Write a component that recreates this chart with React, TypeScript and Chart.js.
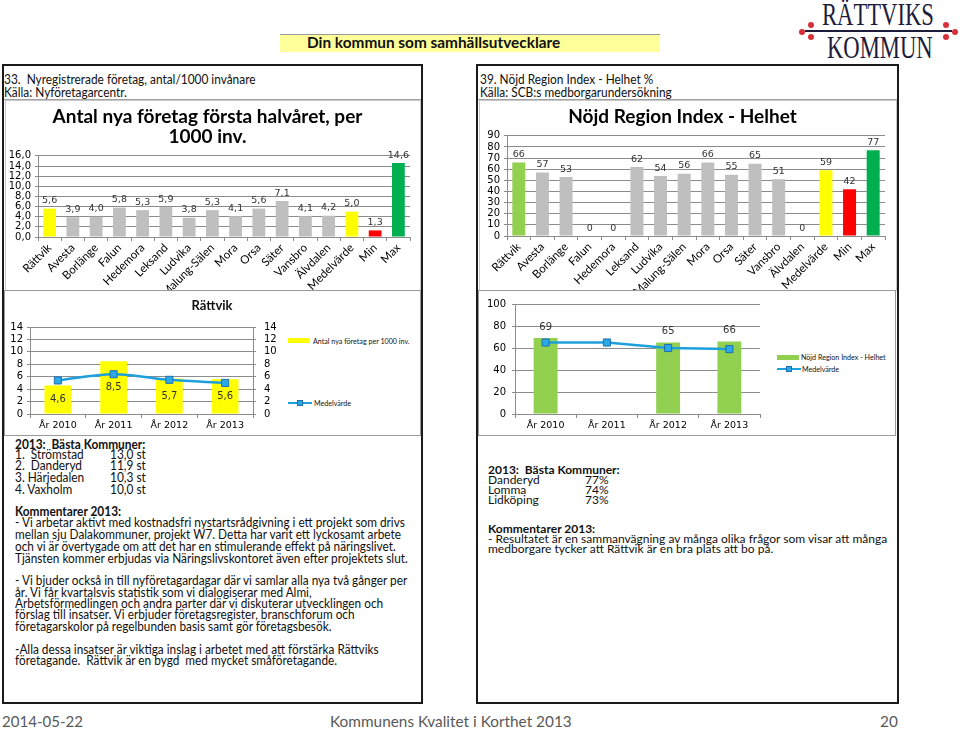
import React, { useEffect, useRef } from "react";
import { Chart, registerables } from "chart.js";

Chart.register(...registerables);

// ---------- DATA ----------
const municipalities = [
  "Rättvik", "Avesta", "Borlänge", "Falun", "Hedemora", "Leksand", "Ludvika", "Malung-Sälen",
  "Mora", "Orsa", "Säter", "Vansbro", "Älvdalen", "Medelvärde", "Min", "Max",
];
const newCompanies = [5.6, 3.9, 4.0, 5.8, 5.3, 5.9, 3.8, 5.3, 4.1, 5.6, 7.1, 4.1, 4.2, 5.0, 1.3, 14.6];
const regionIndex = [66, 57, 53, 0, 0, 62, 54, 56, 66, 55, 65, 51, 0, 59, 42, 77];

const years = ["År 2010", "År 2011", "År 2012", "År 2013"];
const rattvikCompanies = [4.6, 8.5, 5.7, 5.6];
const companiesAverage = [5.4, 6.4, 5.5, 5.0];
const rattvikIndex: (number | null)[] = [69, null, 65, 66];
const indexAverage = [65, 65, 60, 59];

const companiesTicks = { min: 0, max: 16, step: 2 };
const indexTicks = { min: 0, max: 90, step: 10 };
const smallCompaniesTicks = { min: 0, max: 14, step: 2 };
const smallIndexTicks = { min: 0, max: 100, step: 20 };

// ---------- STYLE ----------
const GRAY = "#bfbfbf";
const YELLOW = "#ffff00";
const RED = "#ff0000";
const GREEN = "#00b050";
const LIGHTGREEN = "#92d050";
const LINE = "#1f9fdc";
const GRID = "#8c8c8c";
const CAL = "Lato, 'Open Sans', sans-serif";
const VER = "'DejaVu Sans', sans-serif";

const colorFor = (name: string, own: string) =>
  name === "Rättvik" ? own : name === "Medelvärde" ? YELLOW : name === "Min" ? RED : name === "Max" ? GREEN : GRAY;

const fmt1 = (v: number) => v.toFixed(1).replace(".", ",");

const buildTicks = (t: { min: number; max: number; step: number }) => (s: any) => {
  const arr: { value: number }[] = [];
  for (let v = t.min; v <= t.max + 1e-9; v += t.step) arr.push({ value: v });
  s.ticks = arr;
};

function labelPlugin(cfg: {
  datasetIndex: number;
  position: "top" | "center";
  font: string;
  color: string;
  format: (v: number) => string;
  offset?: number;
}) {
  return {
    id: "valueLabels" + cfg.datasetIndex + cfg.position,
    afterDatasetsDraw(chart: any) {
      const ctx = chart.ctx;
      const ds = chart.data.datasets[cfg.datasetIndex];
      const meta = chart.getDatasetMeta(cfg.datasetIndex);
      ctx.save();
      ctx.font = cfg.font;
      ctx.fillStyle = cfg.color;
      ctx.textAlign = "center";
      meta.data.forEach((el: any, i: number) => {
        const v = ds.data[i];
        if (v == null) return;
        const t = cfg.format(v);
        if (cfg.position === "center") {
          ctx.textBaseline = "middle";
          ctx.fillText(t, el.x, (el.y + el.base) / 2);
        } else {
          ctx.textBaseline = "bottom";
          ctx.fillText(t, el.x, el.y - (cfg.offset ?? 3));
        }
      });
      ctx.restore();
    },
  };
}

function useChart(factory: (c: HTMLCanvasElement) => Chart) {
  const ref = useRef<HTMLCanvasElement>(null);
  useEffect(() => {
    if (!ref.current) return;
    const ch = factory(ref.current);
    return () => ch.destroy();
  }, []);
  return ref;
}

const baseOpts = {
  animation: false as const,
  responsive: false,
  maintainAspectRatio: false,
  events: [] as any[],
};

const catAxis = (height: number, font: any, rotate: boolean) => ({
  grid: { display: true, drawOnChartArea: false, drawTicks: true, tickLength: 4, color: GRID, offset: true },
  border: { color: GRID },
  ticks: rotate
    ? { minRotation: 45, maxRotation: 45, autoSkip: false, font, color: "#000", padding: 0 }
    : { autoSkip: false, font, color: "#000", padding: 2 },
  afterFit: (s: any) => { s.height = height; },
});

const valAxis = (t: { min: number; max: number; step: number }, width: number, fmt: (v: number) => string, extra: any = {}) => ({
  min: t.min,
  max: t.max,
  afterBuildTicks: buildTicks(t),
  ticks: { autoSkip: false, callback: (v: any) => fmt(Number(v)), font: { family: VER, size: 10 }, color: "#000", padding: 4 },
  grid: { color: GRID, tickLength: 3 },
  border: { color: GRID },
  afterFit: (s: any) => { s.width = width; },
  ...extra,
});

function TopCompaniesChart() {
  const ref = useChart((c) =>
    new Chart(c, {
      type: "bar",
      data: {
        labels: municipalities,
        datasets: [
          {
            data: newCompanies,
            backgroundColor: municipalities.map((m) => colorFor(m, YELLOW)),
            barPercentage: 0.55,
            categoryPercentage: 1,
          },
        ],
      },
      options: {
        ...baseOpts,
        layout: { padding: { right: 10, left: 0, top: 0, bottom: 0 } },
        plugins: {
          legend: { display: false },
          tooltip: { enabled: false },
          title: {
            display: true,
            text: ["Antal nya företag första halvåret, per", "1000 inv."],
            font: { family: CAL, size: 19, weight: "bold", lineHeight: 1.05 },
            color: "#000",
            padding: { top: 7, bottom: 9 },
          },
        },
        scales: {
          x: catAxis(53, { family: CAL, size: 11.5 }, true),
          y: valAxis(companiesTicks, 33, fmt1),
        },
      } as any,
      plugins: [labelPlugin({ datasetIndex: 0, position: "top", font: `9.5px ${VER}`, color: "#333", format: fmt1, offset: 3 })],
    })
  );
  return <canvas ref={ref} width={415} height={190} style={{ position: "absolute", left: 5, top: 100 }} />;
}

function TopIndexChart() {
  const ref = useChart((c) =>
    new Chart(c, {
      type: "bar",
      data: {
        labels: municipalities,
        datasets: [
          {
            data: regionIndex,
            backgroundColor: municipalities.map((m) => colorFor(m, LIGHTGREEN)),
            barPercentage: 0.55,
            categoryPercentage: 1,
          },
        ],
      },
      options: {
        ...baseOpts,
        layout: { padding: { right: 8, left: 0, top: 0, bottom: 0 } },
        plugins: {
          legend: { display: false },
          tooltip: { enabled: false },
          title: {
            display: true,
            text: "Nöjd Region Index - Helhet",
            font: { family: CAL, size: 19, weight: "bold", lineHeight: 1.2 },
            color: "#000",
            padding: { top: 5, bottom: 8 },
          },
        },
        scales: {
          x: catAxis(54, { family: CAL, size: 11.5 }, true),
          y: valAxis(indexTicks, 27, (v) => String(v)),
        },
      } as any,
      plugins: [labelPlugin({ datasetIndex: 0, position: "top", font: `9.5px ${VER}`, color: "#333", format: (v) => String(v), offset: 3 })],
    })
  );
  return <canvas ref={ref} width={413} height={190} style={{ position: "absolute", left: 480, top: 100 }} />;
}

const lineDataset = (data: number[], tension: number) =>
  ({
    type: "line",
    data,
    borderColor: LINE,
    borderWidth: 2.5,
    pointStyle: "rect",
    pointRadius: 5,
    pointBackgroundColor: "#2aa9e6",
    pointBorderColor: "#1d6fae",
    pointBorderWidth: 1,
    tension,
    order: 0,
  } as any);

function SmallCompaniesChart() {
  const ref = useChart((c) =>
    new Chart(c, {
      type: "bar",
      data: {
        labels: years,
        datasets: [
          lineDataset(companiesAverage, 0.35),
          {
            type: "bar",
            data: rattvikCompanies,
            backgroundColor: YELLOW,
            barPercentage: 0.48,
            categoryPercentage: 1,
            order: 1,
          },
        ],
      },
      options: {
        ...baseOpts,
        layout: { padding: { right: 0, left: 0, top: 35, bottom: 0 } },
        plugins: { legend: { display: false }, tooltip: { enabled: false } },
        scales: {
          x: catAxis(20, { family: VER, size: 9.5 }, false),
          y: valAxis(smallCompaniesTicks, 25, (v) => String(v)),
          y2: valAxis(smallCompaniesTicks, 30, (v) => String(v), {
            position: "right",
            grid: { drawOnChartArea: false, color: GRID, tickLength: 3 },
            ticks: { autoSkip: false, font: { family: VER, size: 10 }, color: "#000", padding: 8 },
          }),
        },
      } as any,
      plugins: [labelPlugin({ datasetIndex: 1, position: "center", font: `10px ${VER}`, color: "#333", format: fmt1 })],
    })
  );
  return <canvas ref={ref} width={278} height={142} style={{ position: "absolute", left: 5, top: 292 }} />;
}

function SmallIndexChart() {
  const ref = useChart((c) =>
    new Chart(c, {
      type: "bar",
      data: {
        labels: years,
        datasets: [
          lineDataset(indexAverage, 0),
          {
            type: "bar",
            data: rattvikIndex,
            backgroundColor: LIGHTGREEN,
            barPercentage: 0.39,
            categoryPercentage: 1,
            order: 1,
          },
        ],
      },
      options: {
        ...baseOpts,
        layout: { padding: { right: 10, left: 0, top: 9, bottom: 0 } },
        plugins: { legend: { display: false }, tooltip: { enabled: false } },
        scales: {
          x: catAxis(20, { family: VER, size: 9.5 }, false),
          y: valAxis(smallIndexTicks, 35, (v) => String(v), {
            ticks: { autoSkip: false, font: { family: VER, size: 10 }, color: "#000", padding: 6 },
          }),
        },
      } as any,
      plugins: [labelPlugin({ datasetIndex: 1, position: "top", font: `10px ${VER}`, color: "#333", format: (v) => String(v), offset: 6 })],
    })
  );
  return <canvas ref={ref} width={290} height={142} style={{ position: "absolute", left: 480, top: 292 }} />;
}

// ---------- TEXT HELPERS ----------
type TP = {
  x: number; y: number; size?: number; bold?: boolean; sx?: number; color?: string; family?: string;
  center?: boolean; children: React.ReactNode;
};
function T({ x, y, size = 12, bold, sx = 1, color = "#111", family = CAL, center, children }: TP) {
  const lh = Math.round(size * 1.25);
  return (
    <div
      style={{
        position: "absolute",
        left: center ? x - 200 : x,
        width: center ? 400 : undefined,
        textAlign: center ? "center" : "left",
        top: y - lh / 2,
        height: lh,
        lineHeight: lh + "px",
        fontSize: size,
        fontFamily: family,
        fontWeight: bold ? 700 : 400,
        color,
        whiteSpace: "pre",
        transform: `scaleX(${sx})`,
        transformOrigin: center ? "center center" : "left center",
      }}
    >
      {children}
    </div>
  );
}

function Box({ l, t, r, b, border }: { l: number; t: number; r: number; b: number; border: string }) {
  return <div style={{ position: "absolute", left: l, top: t, width: r - l, height: b - t, border, boxSizing: "border-box" }} />;
}

const leftComments = [
  { y: 523, t: "- Vi arbetar aktivt med kostnadsfri nystartsrådgivning i ett projekt som drivs" },
  { y: 535, t: "mellan sju Dalakommuner, projekt W7. Detta har varit ett lyckosamt arbete" },
  { y: 547, t: "och vi är övertygade om att det har en stimulerande effekt på näringslivet." },
  { y: 559, t: "Tjänsten kommer erbjudas via Näringslivskontoret även efter projektets slut." },
  { y: 581, t: "- Vi bjuder också in till nyföretagardagar där vi samlar alla nya två gånger per" },
  { y: 593, t: "år. Vi får kvartalsvis statistik som vi dialogiserar med Almi," },
  { y: 604, t: "Arbetsförmedlingen och andra parter där vi diskuterar utvecklingen och" },
  { y: 615, t: "förslag till insatser. Vi erbjuder företagsregister, branschforum och" },
  { y: 627, t: "företagarskolor på regelbunden basis samt gör företagsbesök." },
  { y: 650, t: "-Alla dessa insatser är viktiga inslag i arbetet med att förstärka Rättviks" },
  { y: 661, t: "företagande.  Rättvik är en bygd  med mycket småföretagande." },
];

const leftBest = [
  { y: 455, n: "1.  Strömstad", v: "13,0 st" },
  { y: 466, n: "2.  Danderyd", v: "11,9 st" },
  { y: 478, n: "3. Härjedalen", v: "10,3 st" },
  { y: 490, n: "4. Vaxholm", v: "10,0 st" },
];
const rightBest = [
  { y: 479, n: "Danderyd", v: "77%" },
  { y: 489, n: "Lomma", v: "74%" },
  { y: 499, n: "Lidköping", v: "73%" },
];

const logoDots = [
  [802, 32], [811, 25], [811, 37], [946, 25], [946, 37], [955, 32],
];

export default function App() {
  return (
    <div style={{ position: "absolute", left: 0, top: 0, width: 960, height: 729, background: "#fff", overflow: "hidden" }}>
      {/* Logo */}
      <div style={{ position: "absolute", left: 805, top: 30, width: 147, height: 2, background: "#1c1c3c" }} />
      <T x={822} y={14} size={31} family="'Liberation Serif', serif" sx={0.73} color="#1c1c3c">RÄTTVIKS</T>
      <T x={827} y={47} size={31} family="'Liberation Serif', serif" sx={0.73} color="#1c1c3c">KOMMUN</T>
      {logoDots.map(([x, y], i) => (
        <div key={i} style={{ position: "absolute", left: x - 3, top: y - 3, width: 6, height: 6, borderRadius: 3, background: "#d8303a" }} />
      ))}

      {/* Header bar */}
      <div style={{ position: "absolute", left: 280, top: 34, width: 380, height: 17, background: "#ffff99", borderTop: "1px solid #999" }} />
      <T x={307} y={43} size={14.5} bold sx={1.06}>Din kommun som samhällsutvecklare</T>

      {/* Left panel */}
      <Box l={2} t={64} r={423} b={704} border="2px solid #1a1a1a" />
      <div style={{ position: "absolute", left: 4, top: 99, width: 417, height: 1, background: "#a0a0a0" }} />
      <Box l={5} t={100} r={421} b={291} border="1px solid #c8c8c8" />
      <Box l={4} t={290} r={421} b={436} border="1px solid #9a9a9a" />
      <T x={4} y={80} size={12.5} sx={0.95}>33.  Nyregistrerade företag, antal/1000 invånare</T>
      <T x={4} y={93} size={12.5} sx={0.95}>Källa: Nyföretagarcentr.</T>

      <TopCompaniesChart />
      <SmallCompaniesChart />
      <T x={212} y={305} size={13} bold center>Rättvik</T>
      {/* small legend left */}
      <div style={{ position: "absolute", left: 288, top: 338, width: 22, height: 5, background: YELLOW }} />
      <T x={313} y={341} size={7.5} sx={0.95}>Antal nya företag per 1000 inv.</T>
      <div style={{ position: "absolute", left: 288, top: 402, width: 24, height: 2, background: LINE }} />
      <div style={{ position: "absolute", left: 297, top: 400, width: 6, height: 6, background: "#2aa9e6", border: "1px solid #1d6fae", boxSizing: "border-box" }} />
      <T x={314} y={403} size={7.5} sx={0.95}>Medelvärde</T>

      <T x={15} y={445} size={12.5} bold sx={0.95}>2013:  Bästa Kommuner:</T>
      {leftBest.map((r) => (
        <React.Fragment key={r.n}>
          <T x={15} y={r.y} size={12.5} sx={0.95}>{r.n}</T>
          <T x={110} y={r.y} size={12.5} sx={0.95}>{r.v}</T>
        </React.Fragment>
      ))}
      <T x={15} y={512} size={12.5} bold sx={0.95}>Kommentarer 2013:</T>
      {leftComments.map((r) => (
        <T key={r.y} x={15} y={r.y} size={12.5} sx={0.945}>{r.t}</T>
      ))}

      {/* Right panel */}
      <Box l={476} t={64} r={899} b={704} border="2px solid #1a1a1a" />
      <div style={{ position: "absolute", left: 478, top: 99, width: 419, height: 1, background: "#a0a0a0" }} />
      <Box l={479} t={100} r={897} b={291} border="1px solid #c8c8c8" />
      <Box l={478} t={290} r={896} b={436} border="1px solid #9a9a9a" />
      <T x={480} y={80} size={12.5} sx={0.95}>39. Nöjd Region Index - Helhet %</T>
      <T x={480} y={93} size={12.5} sx={0.95}>Källa: SCB:s medborgarundersökning</T>

      <TopIndexChart />
      <SmallIndexChart />
      <div style={{ position: "absolute", left: 777, top: 355, width: 22, height: 5, background: LIGHTGREEN }} />
      <T x={801} y={357} size={7.5} sx={0.95}>Nöjd Region Index - Helhet</T>
      <div style={{ position: "absolute", left: 777, top: 368, width: 24, height: 2, background: LINE }} />
      <div style={{ position: "absolute", left: 786, top: 366, width: 6, height: 6, background: "#2aa9e6", border: "1px solid #1d6fae", boxSizing: "border-box" }} />
      <T x={802} y={369} size={7.5} sx={0.95}>Medelvärde</T>

      <T x={488} y={469} size={12} bold>2013:  Bästa Kommuner:</T>
      {rightBest.map((r) => (
        <React.Fragment key={r.n}>
          <T x={488} y={r.y} size={12}>{r.n}</T>
          <T x={585} y={r.y} size={12}>{r.v}</T>
        </React.Fragment>
      ))}
      <T x={488} y={528} size={12} bold>Kommentarer 2013:</T>
      <T x={488} y={538} size={12} sx={1.0}>- Resultatet är en sammanvägning av många olika frågor som visar att många</T>
      <T x={488} y={548} size={12} sx={1.0}>medborgare tycker att Rättvik är en bra plats att bo på.</T>

      {/* Footer */}
      <T x={2} y={721} size={16} sx={0.94} color="#595959">2014-05-22</T>
      <T x={330} y={721} size={16} sx={0.96} color="#595959">Kommunens Kvalitet i Korthet 2013</T>
      <T x={880} y={721} size={16} sx={0.96} color="#595959">20</T>
    </div>
  );
}
